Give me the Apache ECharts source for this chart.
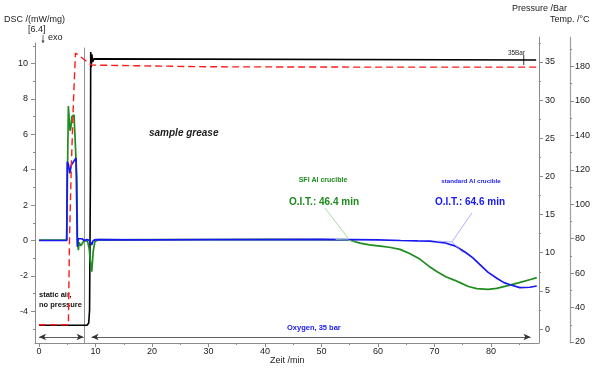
<!DOCTYPE html>
<html>
<head>
<meta charset="utf-8">
<script src="https://cdn.jsdelivr.net/npm/echarts@6/dist/echarts.min.js"></script>
<style>html,body{margin:0;padding:0;background:#fff}#c{width:600px;height:373px}</style>
</head>
<body>
<div id="c"></div>
<script>
// ---------- data ----------
const timeTicks = [0, 10, 20, 30, 40, 50, 60, 70, 80];
const timeMinor = [5, 15, 25, 35, 45, 55, 65, 75, 85];
const dscTicks = [-4, -2, 0, 2, 4, 6, 8, 10];
const dscMinor = [-5, -3, -1, 1, 3, 5, 7, 9, 11];
const pressureTicks = [0, 5, 10, 15, 20, 25, 30, 35];
const pressureMinor = [2.5, 7.5, 12.5, 17.5, 22.5, 27.5, 32.5, 37.5];
const tempTicks = [20, 40, 60, 80, 100, 120, 140, 160, 180];
const tempMinor = [30, 50, 70, 90, 110, 130, 150, 170, 190];

const timeRange = [-0.71, 88.5];
const dscRange = [-5.79, 11.16];
const pressureRange = [-1.83, 38.27];
const tempRange = [19.42, 197.1];

// DSC SFI Al crucible (green), [time min, mW/mg]
const dscSFI = [
  [0, 0.02], [4.9, 0.02], [5.05, 4.0], [5.2, 7.6], [5.35, 6.8], [5.5, 6.2], [5.65, 6.4],
  [5.8, 7.0], [6.0, 6.9], [6.2, 7.1], [6.55, 7.2], [6.7, 3.5], [6.8, 0.1], [6.96, -0.55],
  [7.1, -0.1], [7.4, -0.3], [7.7, -0.2], [8.0, 0.0], [8.6, -0.05], [8.9, -0.5], [9.1, -1.2],
  [9.33, -1.76], [9.6, -0.6], [9.9, -0.05], [10.5, 0.05], [15, 0.04], [20, 0.05], [30, 0.05],
  [40, 0.06], [50, 0.05], [55, 0.03], [56.8, -0.15], [58.5, -0.25], [60.4, -0.32], [62, -0.38],
  [63.9, -0.5], [65.5, -0.72], [67.4, -1.05], [69, -1.45], [70.4, -1.75], [72, -2.05],
  [73.6, -2.25], [74.5, -2.38], [76, -2.6], [77.5, -2.72], [79.5, -2.76], [81, -2.7],
  [83, -2.55], [85, -2.38], [87, -2.2], [88.1, -2.1]
];
// DSC standard Al crucible (blue)
const dscStd = [
  [0, 0.0], [4.9, 0.0], [5.0, 4.45], [5.2, 4.3], [5.45, 3.8], [5.7, 4.25], [6.0, 4.4],
  [6.3, 4.5], [6.55, 4.66], [6.7, 1.5], [6.78, -0.35], [6.95, 0.1], [7.3, 0.05], [7.6, 0.1],
  [8.0, 0.0], [8.5, 0.05], [9.0, 0.0], [9.33, -0.25], [9.6, 0.0], [10, 0.05], [20, 0.04],
  [30, 0.05], [40, 0.05], [50, 0.06], [60, 0.04], [64, 0.0], [67, -0.02], [69.2, -0.03],
  [71.9, -0.14], [73.6, -0.3], [75.4, -0.65], [76.8, -0.98], [78, -1.35], [79.5, -1.8],
  [81.1, -2.15], [82.3, -2.38], [83.4, -2.5], [85.1, -2.66], [86.9, -2.64], [88.1, -2.57]
];
// Pressure (black), [time min, bar]
const pressure = [
  [0, 0.5], [8.5, 0.5], [8.8, 0.8], [8.95, 2.5], [9.1, 20], [9.15, 36.3], [9.25, 34.3],
  [9.35, 36.0], [9.5, 35.0], [9.7, 35.4], [10, 35.25], [88, 35.25]
];
// Temperature (red dashed), [time min, °C]
const temperature = [
  [0, 30], [5.2, 30], [5.4, 80], [5.7, 120], [6.1, 160], [6.45, 187.8], [9.3, 180.8],
  [9.5, 179.7], [30, 179.8], [60, 179.6], [88, 179.6]
];
const gasSwitchTime = [8.05];
const gasSwitchSpan = [10.9, -5.79];
const phaseArrows = [[0, 7.9], [9.3, 87.0]];
const arrowLevel = [-5.45];
const oitLeaderSFI = [[50.6, 1.84], [54.7, 0.14]];
const oitLeaderStd = [[76.6, 1.55], [73.1, -0.08]];
const oitTangentStd = [[70.4, -0.03], [73.1, -0.08], [75.1, -0.71]];
const oitTangentSFI = [[52.5, 0.06], [54.7, 0.04], [56.0, -0.12]];
const pressureMark = [[85.8, 34.6], [85.8, 35.9]];

// ---------- chart ----------
const FONT = '"Liberation Sans", Arial, sans-serif';
const axisGray = '#8a8a8a';
const labelCol = '#222';
const chart = echarts.init(document.getElementById('c'), null, {renderer: 'canvas'});

function baseX(grid, show) {
  return {
    type: 'value', gridIndex: grid, min: timeRange[0], max: timeRange[1],
    splitLine: {show: false}, show: show, position: 'bottom'
  };
}
const dscColor = '#1e8c1e', stdColor = '#1818f0';

const option = {
  animation: false,
  backgroundColor: '#fff',
  grid: [
    {left: 35, right: 61, top: 43, bottom: 30},
    {left: 35, right: 61, top: 37, bottom: 30}
  ],
  xAxis: [
    Object.assign(baseX(0, true), {
      axisLine: {show: true, onZero: false, lineStyle: {color: axisGray, width: 1}},
      axisTick: {show: true, length: 4, inside: false, customValues: timeTicks, lineStyle: {color: axisGray}},
      axisLabel: {show: true, customValues: timeTicks, color: labelCol, fontSize: 9, fontFamily: FONT, margin: 4}
    }),
    Object.assign(baseX(1, false), {axisLine: {onZero: false}}),
    Object.assign(baseX(0, true), {
      axisLine: {show: false, onZero: false},
      axisTick: {show: true, length: 2, customValues: timeMinor, lineStyle: {color: axisGray}},
      axisLabel: {show: false}
    })
  ],
  yAxis: [
    {
      type: 'value', gridIndex: 0, position: 'left', min: dscRange[0], max: dscRange[1],
      splitLine: {show: false},
      axisLine: {show: true, onZero: false, lineStyle: {color: axisGray}},
      axisTick: {show: true, length: 4, customValues: dscTicks, lineStyle: {color: axisGray}},
      axisLabel: {customValues: dscTicks, color: labelCol, fontSize: 9, fontFamily: FONT, margin: 7}
    },
    {
      type: 'value', gridIndex: 0, position: 'left', min: dscRange[0], max: dscRange[1],
      splitLine: {show: false}, axisLine: {show: false, onZero: false},
      axisTick: {show: true, length: 2, customValues: dscMinor, lineStyle: {color: axisGray}},
      axisLabel: {show: false}
    },
    {
      type: 'value', gridIndex: 1, position: 'right', offset: 0, min: pressureRange[0], max: pressureRange[1],
      splitLine: {show: false},
      axisLine: {show: true, onZero: false, lineStyle: {color: axisGray}},
      axisTick: {show: true, length: 4, customValues: pressureTicks, lineStyle: {color: axisGray}},
      axisLabel: {customValues: pressureTicks, color: labelCol, fontSize: 9, fontFamily: FONT, margin: 6}
    },
    {
      type: 'value', gridIndex: 1, position: 'right', offset: 0, min: pressureRange[0], max: pressureRange[1],
      splitLine: {show: false}, axisLine: {show: false, onZero: false},
      axisTick: {show: true, length: 2, customValues: pressureMinor, lineStyle: {color: axisGray}},
      axisLabel: {show: false}
    },
    {
      type: 'value', gridIndex: 1, position: 'right', offset: 31, min: tempRange[0], max: tempRange[1],
      splitLine: {show: false},
      axisLine: {show: true, onZero: false, lineStyle: {color: '#a0a0a0', width: 1.2}},
      axisTick: {show: true, length: 4, customValues: tempTicks, lineStyle: {color: axisGray}},
      axisLabel: {customValues: tempTicks, color: labelCol, fontSize: 9, fontFamily: FONT, margin: 5}
    },
    {
      type: 'value', gridIndex: 1, position: 'right', offset: 31, min: tempRange[0], max: tempRange[1],
      splitLine: {show: false}, axisLine: {show: false, onZero: false},
      axisTick: {show: true, length: 2, customValues: tempMinor, lineStyle: {color: axisGray}},
      axisLabel: {show: false}
    }
  ],
  series: [
    {
      name: 'switch', type: 'line', xAxisIndex: 0, yAxisIndex: 0, silent: true,
      data: [[gasSwitchTime[0], gasSwitchSpan[0]], [gasSwitchTime[0], gasSwitchSpan[1]]],
      showSymbol: false, lineStyle: {color: '#777', width: 0.8}, z: 1
    },
    {
      name: 'arrows', type: 'line', xAxisIndex: 0, yAxisIndex: 0, data: [], silent: true,
      markLine: {
        silent: true, symbol: ['arrow', 'arrow'], symbolSize: [5, 7],
        label: {show: false},
        lineStyle: {color: '#333', width: 0.8, type: 'solid'},
        data: phaseArrows.map(a => [{coord: [a[0], arrowLevel[0]]}, {coord: [a[1], arrowLevel[0]]}])
      }
    },
    {
      name: 'Pressure', type: 'line', xAxisIndex: 1, yAxisIndex: 2, data: pressure,
      showSymbol: false, lineStyle: {color: '#000', width: 1.6}, z: 2
    },
    {
      name: 'pmark', type: 'line', xAxisIndex: 1, yAxisIndex: 2, data: pressureMark,
      showSymbol: false, lineStyle: {color: '#000', width: 0.8}, z: 2
    },
    {
      name: 'SFI Al crucible', type: 'line', xAxisIndex: 0, yAxisIndex: 0, data: dscSFI,
      showSymbol: false, lineStyle: {color: dscColor, width: 1.7}, z: 3
    },
    {
      name: 'standard Al crucible', type: 'line', xAxisIndex: 0, yAxisIndex: 0, data: dscStd,
      showSymbol: false, lineStyle: {color: stdColor, width: 1.7}, z: 4
    },
    {
      name: 'Temp', type: 'line', xAxisIndex: 1, yAxisIndex: 4, data: temperature,
      showSymbol: false, lineStyle: {color: '#ff1a1a', width: 1.4, type: [7, 4]}, z: 5
    },
    {
      name: 'leaderSFI', type: 'line', xAxisIndex: 0, yAxisIndex: 0, data: oitLeaderSFI,
      showSymbol: false, lineStyle: {color: '#8fcf8f', width: 0.8}, z: 6
    },
    {
      name: 'tangentSFI', type: 'line', xAxisIndex: 0, yAxisIndex: 0, data: oitTangentSFI,
      showSymbol: false, lineStyle: {color: '#8fcf8f', width: 0.8}, z: 6
    },
    {
      name: 'leaderStd', type: 'line', xAxisIndex: 0, yAxisIndex: 0, data: oitLeaderStd,
      showSymbol: false, lineStyle: {color: '#9a9aff', width: 0.8}, z: 6
    },
    {
      name: 'tangentStd', type: 'line', xAxisIndex: 0, yAxisIndex: 0, data: oitTangentStd,
      showSymbol: false, lineStyle: {color: '#9a9aff', width: 0.8}, z: 6
    }
  ],
  graphic: [
    {type: 'text', style: {text: 'DSC /(mW/mg)', x: 4, y: 20, fill: '#222', font: '9px ' + FONT, textAlign: 'left', textVerticalAlign: 'middle', align: 'left', verticalAlign: 'middle'}},
    {type: 'text', style: {text: '[6.4]', x: 28, y: 30, fill: '#222', font: '9px ' + FONT, textAlign: 'left', textVerticalAlign: 'middle', align: 'left', verticalAlign: 'middle'}},
    {type: 'text', style: {text: 'exo', x: 48, y: 38, fill: '#222', font: '9px ' + FONT, textAlign: 'left', textVerticalAlign: 'middle', align: 'left', verticalAlign: 'middle'}},
    {type: 'line', shape: {x1: 43, y1: 35, x2: 43, y2: 42}, style: {stroke: '#444', lineWidth: 0.8}},
    {type: 'polygon', shape: {points: [[41.5, 40.5], [44.5, 40.5], [43, 43.5]]}, style: {fill: '#444'}},
    {type: 'text', style: {text: 'Pressure /Bar', x: 512, y: 9, fill: '#222', font: '9px ' + FONT, textAlign: 'left', textVerticalAlign: 'middle', align: 'left', verticalAlign: 'middle'}},
    {type: 'text', style: {text: 'Temp. /°C', x: 550, y: 20, fill: '#222', font: '9px ' + FONT, textAlign: 'left', textVerticalAlign: 'middle', align: 'left', verticalAlign: 'middle'}},
    {type: 'text', style: {text: 'sample grease', x: 149, y: 133, fill: '#222', font: 'italic bold 10px ' + FONT, textAlign: 'left', textVerticalAlign: 'middle', align: 'left', verticalAlign: 'middle'}},
    {type: 'text', style: {text: 'SFI Al crucible', x: 323, y: 180, fill: dscColor, font: 'bold 7px ' + FONT, textAlign: 'center', textVerticalAlign: 'middle', align: 'center', verticalAlign: 'middle'}},
    {type: 'text', style: {text: 'standard Al crucible', x: 471, y: 181, fill: stdColor, font: 'bold 6.2px ' + FONT, textAlign: 'center', textVerticalAlign: 'middle', align: 'center', verticalAlign: 'middle'}},
    {type: 'text', style: {text: 'O.I.T.: 46.4 min', x: 289, y: 202, fill: dscColor, font: 'bold 10px ' + FONT, textAlign: 'left', textVerticalAlign: 'middle', align: 'left', verticalAlign: 'middle'}},
    {type: 'text', style: {text: 'O.I.T.: 64.6 min', x: 435, y: 202, fill: stdColor, font: 'bold 10px ' + FONT, textAlign: 'left', textVerticalAlign: 'middle', align: 'left', verticalAlign: 'middle'}},
    {type: 'text', style: {text: '35Bar', x: 508, y: 53, fill: '#222', font: '6.4px ' + FONT, textAlign: 'left', textVerticalAlign: 'middle', align: 'left', verticalAlign: 'middle'}},
    {type: 'text', style: {text: 'static air,\nno pressure', x: 39, y: 300, fill: '#111', font: 'bold 7.5px ' + FONT, lineHeight: 9.5, textAlign: 'left', textVerticalAlign: 'middle', align: 'left', verticalAlign: 'middle'}},
    {type: 'text', style: {text: 'Oxygen, 35 bar', x: 287, y: 328, fill: stdColor, font: 'bold 7.5px ' + FONT, textAlign: 'left', textVerticalAlign: 'middle', align: 'left', verticalAlign: 'middle'}},
    {type: 'text', style: {text: 'Zeit /min', x: 270, y: 361, fill: '#222', font: '9px ' + FONT, textAlign: 'left', textVerticalAlign: 'middle', align: 'left', verticalAlign: 'middle'}}
  ]
};
chart.setOption(option);
</script>
</body>
</html>
